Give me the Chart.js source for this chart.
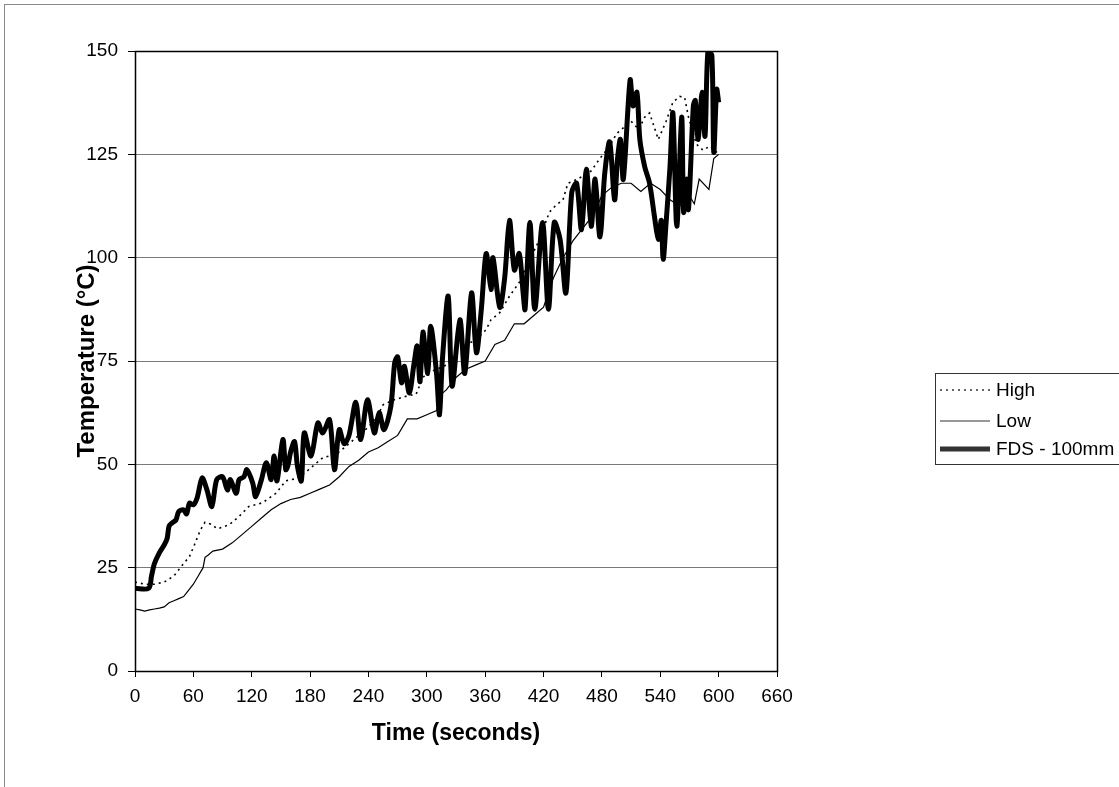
<!DOCTYPE html>
<html>
<head>
<meta charset="utf-8">
<script src="https://cdn.jsdelivr.net/npm/chart.js@4.4.1/dist/chart.umd.min.js"></script>
<style>
    html, body { margin: 0; padding: 0; background: #fff; }
</style>
</head>
<body>
<canvas id="chart" width="1119" height="787"></canvas>
<script>
// x axis ticks (seconds) and y axis ticks (deg C)
const TIME_TICKS = [0, 60, 120, 180, 240, 300, 360, 420, 480, 540, 600, 660];
const TEMP_TICKS = [0, 25, 50, 75, 100, 125, 150];

const LABELS = ['High', 'Low', 'FDS - 100mm'];

// High (dotted)
const highTime = [0, 10, 20, 30, 40, 45, 50, 56, 62, 67, 72, 78, 85, 92, 97, 107, 117, 131, 145, 155,
    165, 175, 185, 193, 200, 210, 220, 230, 240, 250, 255, 265, 279, 289, 296, 300, 310, 320, 330, 340,
    350, 361, 366, 375, 385, 395, 405, 415, 426, 432, 440, 445, 455, 469, 478, 488, 495, 500, 510, 518,
    524, 529, 538, 546, 553, 560, 565, 569, 577, 584, 591, 598, 600];
const highTemp = [21.5, 21, 21, 21.5, 23, 24.5, 26, 27.7, 31, 34, 36, 35.5, 34.4, 35, 35.4, 37.4, 39.8, 40.7, 43, 46,
    46.5, 48, 50, 51.6, 52, 53, 55, 57, 59, 62, 64.4, 65.5, 66.5, 67, 71, 72, 73, 74, 77, 79,
    80, 82.6, 85, 86.7, 90.7, 94, 99, 104, 111, 112.5, 114, 118, 119, 121, 124, 127, 130, 131, 133, 131,
    134, 135, 128.6, 133, 137.6, 139, 138.8, 134, 127.5, 126, 127, 125.5, 125];

// Low (thin solid)
const lowTime = [0, 5, 10, 15, 20, 25, 30, 35, 40, 45, 50, 55, 60, 65, 70, 72, 75, 80, 90, 100,
    110, 120, 130, 140, 150, 160, 170, 180, 190, 200, 210, 220, 230, 240, 250, 260, 270, 280, 290, 300,
    310, 315, 320, 330, 340, 350, 360, 370, 380, 390, 400, 410, 420, 430, 440, 450, 460, 470, 480, 490,
    500, 510, 520, 530, 540, 550, 560, 570, 575, 580, 590, 595, 600];
const lowTemp = [15, 14.8, 14.5, 14.8, 15, 15.2, 15.5, 16.5, 17, 17.5, 18, 19.5, 21, 23, 25, 27.5, 28, 29, 29.5, 31,
    33, 35, 37, 39, 40.5, 41.5, 42, 43, 44, 45, 47, 49.5, 51, 53, 54, 55.5, 57, 61, 61, 62,
    63, 67, 68, 71, 73, 74, 75, 79, 80, 84, 84, 86, 88, 95, 100, 104, 107, 110, 115, 117,
    118, 118, 116, 118, 116.5, 114, 112.5, 115, 113, 119, 116.5, 124, 125];

// FDS - 100mm (thick)
const fdsTime = [0, 14, 17, 20, 25, 30, 33, 35, 38, 42, 45, 50, 53, 56, 60, 64, 69, 74, 79, 84,
    90, 95, 98, 104, 107, 112, 115, 121, 124, 130, 135, 140, 143, 146, 152, 155, 157, 160, 164, 167,
    171, 174, 181, 188, 193, 200, 205, 210, 215, 220, 227, 232, 239, 246, 251, 256, 263, 267, 270, 274,
    277, 282, 287, 290, 293, 296, 301, 304, 310, 313, 316, 322, 326, 334, 339, 346, 351, 356, 361, 366,
    368, 375, 380, 385, 390, 395, 399, 401, 406, 411, 419, 425, 431, 437, 443, 449, 454, 459, 464, 469,
    473, 478, 483, 488, 493, 496, 499, 502, 509, 512, 516, 519, 524, 529, 534, 538, 541, 543, 546, 550,
    553, 557, 562, 564, 567, 569, 574, 576, 579, 583, 586, 589, 593, 595, 598, 600];
const fdsTemp = [20, 20, 23, 26, 28.6, 30.5, 32, 35, 35.8, 36.5, 38.6, 39, 38, 40.6, 40.2, 42, 46.7, 43.8, 39.8, 46.3,
    47, 43.8, 46.3, 43, 46.3, 47, 48.7, 45.5, 42.2, 46.3, 50.4, 46.3, 52, 46, 56, 48.7, 49.5, 53, 55.5, 49.5,
    46, 57.6, 52, 60, 57.6, 60.8, 48.7, 58.4, 55, 57, 65, 56, 65.6, 57.6, 62.5, 58.4, 64, 74.6, 76, 69.7,
    73.7, 67.3, 74.6, 78.6, 70, 82, 72, 83.4, 72, 62, 75.3, 90.7, 68.9, 85, 72, 91.5, 77, 87.4, 101, 92.3,
    100, 88, 95, 109, 97, 101, 91.5, 87.5, 108.5, 87.5, 108.5, 87.5, 108.5, 104.4, 91.5, 115.8, 118, 106.8, 121.4, 107.6,
    119, 105, 120.6, 128, 114, 123.8, 128.6, 119, 143, 136.7, 140, 128.6, 122, 118, 110, 104.4, 109, 99.6, 108.5, 122,
    135, 107.6, 134, 111, 119, 111.7, 136.7, 138, 128.6, 140, 129.4, 150, 149, 125.5, 140.7, 137.6];

const toPoints = (ts, vs) => ts.map((t, i) => ({ x: t, y: vs[i] }));

const FONT = "'Liberation Sans', Arial, sans-serif";
Chart.defaults.font.family = FONT;
Chart.defaults.color = '#000';

// plot frame, outer border and the boxed legend on the right
const framePlugin = {
    id: 'frame',
    beforeDraw(chart) {
        const ctx = chart.ctx;
        ctx.save();
        ctx.fillStyle = '#fff';
        ctx.fillRect(0, 0, chart.width, chart.height);
        ctx.restore();
    },
    afterDraw(chart) {
        const ctx = chart.ctx;
        const a = chart.chartArea;
        ctx.save();
        ctx.strokeStyle = '#000';
        ctx.lineWidth = 1.5;
        ctx.setLineDash([]);
        ctx.strokeRect(Math.round(a.left) + 0.5, Math.round(a.top) + 0.5,
            Math.round(a.right - a.left), Math.round(a.bottom - a.top));

        ctx.strokeStyle = '#8a8a8a';
        ctx.lineWidth = 1;
        ctx.strokeRect(4.5, 4.5, chart.width + 20, chart.height + 20);

        // legend
        const lx = 935.5, ly = 373.5;
        ctx.strokeStyle = '#333';
        ctx.strokeRect(lx, ly, 300, 91);
        const rows = [390, 421, 449];
        ctx.font = '19px ' + FONT;
        ctx.textBaseline = 'middle';
        ctx.fillStyle = '#000';
        chart.data.datasets.forEach((ds, i) => {
            ctx.beginPath();
            ctx.lineWidth = ds.borderWidth;
            ctx.setLineDash(ds.borderDash || []);
            ctx.moveTo(940, rows[i]);
            ctx.lineTo(990, rows[i]);
            ctx.stroke();
            ctx.setLineDash([]);
            ctx.fillText(ds.label, 996, rows[i] + 1);
        });
        ctx.restore();
    }
};

new Chart(document.getElementById('chart'), {
    type: 'line',
    data: {
        datasets: [{
            label: LABELS[0],
            data: toPoints(highTime, highTemp),
            borderColor: '#000',
            borderWidth: 1.6,
            borderDash: [2, 4],
            pointRadius: 0,
            order: 1
        }, {
            label: LABELS[1],
            data: toPoints(lowTime, lowTemp),
            borderColor: '#000',
            borderWidth: 1.2,
            pointRadius: 0,
            order: 2
        }, {
            label: LABELS[2],
            data: toPoints(fdsTime, fdsTemp),
            borderColor: '#000',
            borderWidth: 5,
            pointRadius: 0,
            tension: 0.3,
            order: 0
        }]
    },
    options: {
        responsive: false,
        animation: false,
        layout: { padding: { left: 60, top: 51, right: 342, bottom: 40 } },
        plugins: {
            legend: { display: false },
            tooltip: { enabled: false }
        },
        scales: {
            x: {
                type: 'linear',
                min: TIME_TICKS[0],
                max: TIME_TICKS[TIME_TICKS.length - 1],
                afterBuildTicks: (s) => { s.ticks = TIME_TICKS.map(v => ({ value: v })); },
                ticks: { padding: 8, font: { size: 19 }, color: '#000', maxRotation: 0, autoSkip: false },
                grid: { drawOnChartArea: false, tickColor: '#000', tickLength: 6 },
                border: { display: false },
                title: {
                    display: true, text: 'Time (seconds)', color: '#000',
                    font: { size: 23, weight: 'bold' }, padding: 0
                },
                afterFit: (s) => { s.height = 76; }
            },
            y: {
                min: TEMP_TICKS[0],
                max: TEMP_TICKS[TEMP_TICKS.length - 1],
                afterBuildTicks: (s) => { s.ticks = TEMP_TICKS.map(v => ({ value: v })); },
                ticks: { padding: 10, font: { size: 19 }, color: '#000' },
                grid: { color: '#7a7a7a', tickColor: '#000', tickLength: 7 },
                border: { display: false },
                title: {
                    display: true, text: 'Temperature (°C)', color: '#000',
                    font: { size: 24, weight: 'bold' }, padding: { top: 13, bottom: 0 }
                },
                afterFit: (s) => { s.width = 75; }
            }
        }
    },
    plugins: [framePlugin]
});
</script>
</body>
</html>
